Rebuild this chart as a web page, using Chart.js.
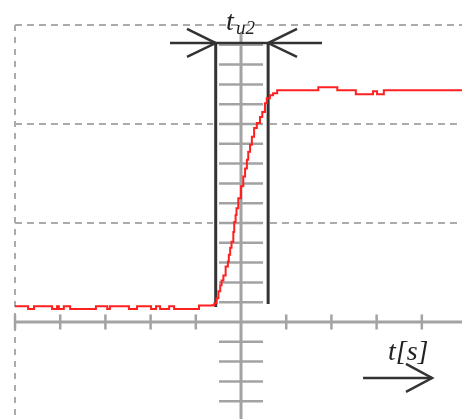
<!DOCTYPE html>
<html><head><meta charset="utf-8">
<script src="https://cdn.jsdelivr.net/npm/chart.js@4/dist/chart.umd.min.js"></script>
<style>html,body{margin:0;padding:0;background:#fff;overflow:hidden}#wrap{width:462px;height:419px}</style>
</head><body><div id="wrap"><canvas id="c" width="462" height="419"></canvas></div>
<script>
// ---- data (x in time divisions, y in amplitude divisions) ----
const traceT = [-5.00,-4.71,-4.58,-4.18,-4.07,-4.03,-3.92,-3.78,-3.21,-2.96,-2.90,-2.48,-2.30,-1.99,-1.88,-1.79,-1.59,-1.48,-0.93,
  -0.64,-0.59,-0.54,-0.50,-0.46,-0.43,-0.39,-0.34,-0.29,-0.27,-0.24,-0.21,-0.17,-0.15,-0.12,-0.10,-0.06,0.00,0.05,0.09,0.13,0.16,0.20,0.24,0.29,0.35,0.42,0.47,0.53,0.57,0.64,0.71,0.80,
  1.71,2.13,2.54,2.92,3.01,3.16,4.89];
const traceV = [0.16,0.13,0.16,0.13,0.16,0.13,0.16,0.13,0.16,0.13,0.16,0.13,0.16,0.13,0.16,0.13,0.16,0.13,0.167,
  0.17,0.19,0.24,0.31,0.37,0.42,0.47,0.56,0.61,0.68,0.75,0.81,0.91,1.01,1.08,1.15,1.25,1.37,1.47,1.55,1.64,1.72,1.79,1.87,1.96,2.01,2.07,2.12,2.21,2.26,2.29,2.31,2.34,
  2.37,2.34,2.30,2.33,2.30,2.34,2.34];
const xTickValues = [-5,-4,-3,-2,-1,1,2,3,4];
const yMinorTicks = [-0.8,-0.6,-0.4,-0.2,0.2,0.4,0.6,0.8,1.0,1.2,1.4,1.6,1.8,2.0,2.2,2.4,2.6,2.8];
const gridLevels = [1,2,3];
const markerStart = -0.56, markerEnd = 0.60;   // t_u2 window
const labelMarker = 't', labelMarkerSub = 'u2', labelAxis = 't[s]';

// ---- view window ----
const VIEW = {xMin:-5.332, xMax:4.889, yMin:-0.98, yMax:3.2525};
const SERIF = '"Liberation Serif", "Times New Roman", Times, "DejaVu Serif", "Noto Serif", serif';

const scopePlugin = {
  id:'scope',
  beforeDatasetsDraw(chart){
    const ctx = chart.ctx, sx = chart.scales.x, sy = chart.scales.y;
    const X = v => sx.getPixelForValue(v), Y = v => sy.getPixelForValue(v);
    const seg = (x1,y1,x2,y2) => {ctx.beginPath();ctx.moveTo(X(x1),Y(y1));ctx.lineTo(X(x2),Y(y2));ctx.stroke();};
    ctx.save();
    // dashed grid
    ctx.strokeStyle = '#ababab'; ctx.lineWidth = 2; ctx.setLineDash([6,6]);
    seg(-5, 3, -5, VIEW.yMin);
    ctx.setLineDash([7,5]);
    gridLevels.forEach(l => {
      if (l === 3) seg(-5, l, VIEW.xMax, l);
      else { seg(-5, l, -0.62, l); seg(0.64, l, VIEW.xMax, l); }
    });
    ctx.setLineDash([]);
    // axes
    ctx.strokeStyle = '#a3a3a3'; ctx.lineWidth = 3;
    seg(-5, 0, VIEW.xMax, 0);
    seg(0, 2.92, 0, VIEW.yMin);
    ctx.lineWidth = 2.5;
    xTickValues.forEach(t => seg(t, -0.076, t, 0.076));
    yMinorTicks.forEach(v => seg(-0.487, v, 0.487, v));
    // marker lines
    ctx.strokeStyle = '#333'; ctx.lineWidth = 3;
    seg(markerStart, 2.818, markerStart, 0.152);
    seg(markerEnd, 2.818, markerEnd, 0.182);
    ctx.lineWidth = 2.5;
    seg(-1.571, 2.818, 1.792, 2.818);
    ctx.beginPath(); ctx.moveTo(X(-1.195),Y(2.96)); ctx.lineTo(X(markerStart),Y(2.818)); ctx.lineTo(X(-1.195),Y(2.677)); ctx.stroke();
    ctx.beginPath(); ctx.moveTo(X(1.239),Y(2.96)); ctx.lineTo(X(markerEnd),Y(2.818)); ctx.lineTo(X(1.239),Y(2.677)); ctx.stroke();
    // time arrow
    seg(2.70, -0.566, 4.226, -0.566);
    ctx.beginPath(); ctx.moveTo(X(3.65),Y(-0.424)); ctx.lineTo(X(4.226),Y(-0.566)); ctx.lineTo(X(3.65),Y(-0.707)); ctx.stroke();
    ctx.restore();
  },
  afterDatasetsDraw(chart){
    const ctx = chart.ctx;
    ctx.save();
    ctx.fillStyle = '#222'; ctx.textBaseline = 'alphabetic'; ctx.textAlign = 'left';
    ctx.font = 'italic 28px ' + SERIF;
    ctx.fillText(labelMarker, 226, 30);
    ctx.font = 'italic 19px ' + SERIF;
    ctx.fillText(labelMarkerSub, 236, 34);
    ctx.font = 'italic 28px ' + SERIF;
    ctx.fillText(labelAxis, 388, 360);
    ctx.restore();
  }
};

new Chart(document.getElementById('c'), {
  type: 'line',
  data: { datasets: [{
    data: traceT.map((t,i) => ({x:t, y:traceV[i]})),
    borderColor: 'rgb(255,32,32)', borderWidth: 2, pointRadius: 0, stepped: 'before', fill: false, clip: false
  }]},
  options: {
    responsive: false, animation: false, devicePixelRatio: 1,
    layout: { padding: 0 },
    plugins: { legend: {display:false}, tooltip: {enabled:false} },
    scales: {
      x: { type:'linear', min:VIEW.xMin, max:VIEW.xMax, display:false },
      y: { type:'linear', min:VIEW.yMin, max:VIEW.yMax, display:false }
    }
  },
  plugins: [scopePlugin]
});
</script></body></html>
